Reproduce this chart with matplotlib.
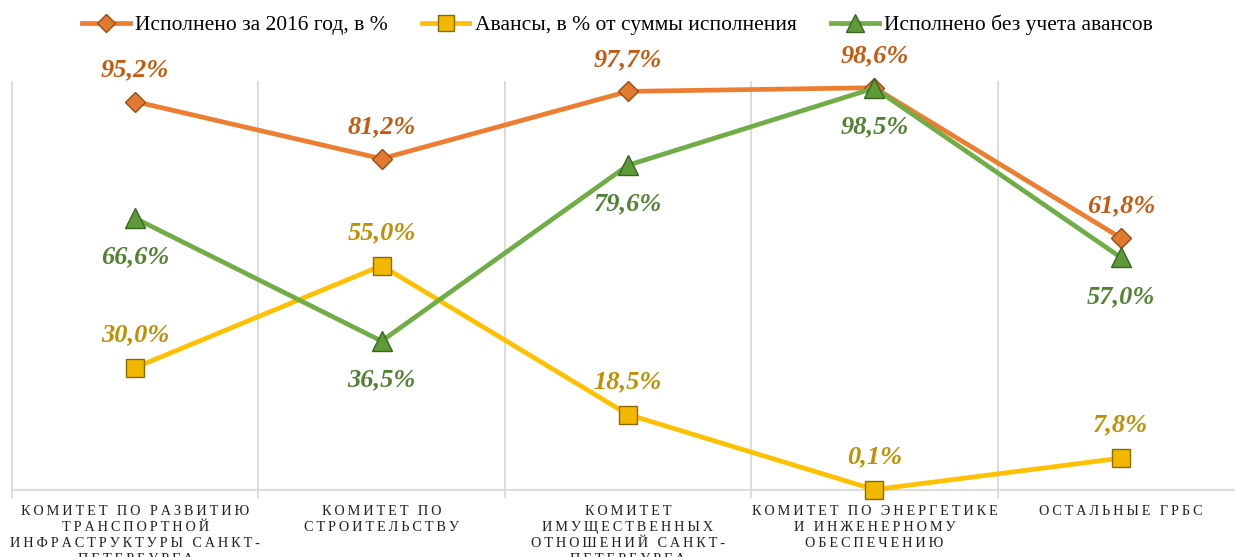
import matplotlib
matplotlib.use("Agg")
import matplotlib.pyplot as plt
from matplotlib.lines import Line2D
import numpy as np

categories = [
    "КОМИТЕТ ПО РАЗВИТИЮ\nТРАНСПОРТНОЙ\nИНФРАСТРУКТУРЫ САНКТ-\nПЕТЕРБУРГА",
    "КОМИТЕТ ПО\nСТРОИТЕЛЬСТВУ",
    "КОМИТЕТ\nИМУЩЕСТВЕННЫХ\nОТНОШЕНИЙ САНКТ-\nПЕТЕРБУРГА",
    "КОМИТЕТ ПО ЭНЕРГЕТИКЕ\nИ ИНЖЕНЕРНОМУ\nОБЕСПЕЧЕНИЮ",
    "ОСТАЛЬНЫЕ ГРБС",
]
executed = [95.2, 81.2, 97.7, 98.6, 61.8]
advances = [30.0, 55.0, 18.5, 0.1, 7.8]
without_adv = [66.6, 36.5, 79.6, 98.5, 57.0]
series_names = ["Исполнено за 2016 год, в %",
                "Авансы, в % от суммы исполнения",
                "Исполнено без учета авансов"]

W, H = 1235, 557
fig = plt.figure(figsize=(W / 100, H / 100), dpi=100)
left, right, top, bottom = 12, 1244, 82, 490
ax = fig.add_axes([left / W, 1 - bottom / H, (right - left) / W, (bottom - top) / H])

x = np.arange(len(categories))
ax.set_xlim(-0.5, len(categories) - 0.5)
ax.set_ylim(0, 100)

serif = ["Liberation Serif", "DejaVu Serif"]

# gridlines at category boundaries
bounds = np.arange(-0.5, len(categories), 1.0)
for b in bounds:
    ax.axvline(b, color="#d9d9d9", lw=1.3, zorder=0, clip_on=False)

line_cols = ["#ED7D31", "#FFC000", "#70AD47"]
face_cols = ["#E07A30", "#F2B800", "#5E9A38"]
edge_cols = ["#9C4A12", "#8A6A00", "#3B6322"]
text_cols = ["#C55A11", "#BF9000", "#548235"]
markers = ["D", "s", "^"]
msizes = [10, 12.5, 14]
data = [executed, advances, without_adv]
offsets = [32, 33, -39]

for vals, lc, fc, ec, tc, m, ms, off in zip(data, line_cols, face_cols, edge_cols, text_cols, markers, msizes, offsets):
    ax.plot(x, vals, color=lc, lw=3.4, marker=m, markersize=ms,
            markerfacecolor=fc, markeredgecolor=ec,
            markeredgewidth=1.0, zorder=3, clip_on=False)
    for xi, v in zip(x, vals):
        ax.annotate(f"{v:.1f}%".replace(".", ","), (xi, v), xytext=(0, off),
                    textcoords="offset pixels", ha="center", va="center",
                    fontsize=19, fontweight="bold", fontstyle="italic",
                    color=tc, family=serif, zorder=5)

for s in ["top", "right", "left"]:
    ax.spines[s].set_visible(False)
ax.spines["bottom"].set_color("#d9d9d9")
ax.spines["bottom"].set_linewidth(1.3)
ax.set_yticks([])

ax.set_xticks(x)
spaced = ["\n".join("\u2009".join(ch for ch in line) for line in c.split("\n")) for c in categories]
ax.set_xticklabels(spaced, family=serif, fontsize=10.3, color="#222222", linespacing=1.3, va="top")
ax.tick_params(axis="x", which="major", length=0, pad=11)
ax.set_xticks(bounds, minor=True)
ax.tick_params(axis="x", which="minor", length=6, color="#d9d9d9", width=1.3)

handles = []
for lc, fc, ec, m, ms, name in zip(line_cols, face_cols, edge_cols, markers, msizes, series_names):
    handles.append(Line2D([0], [0], color=lc, lw=3.4, marker=m, markersize=ms * 0.9,
                          markerfacecolor=fc, markeredgecolor=ec, label=name))
fig.legend(handles=handles, loc="center", bbox_to_anchor=(0.5, 1 - 25 / H), ncol=3,
           frameon=False, prop={"family": serif, "size": 15.5}, handlelength=2.2,
           handletextpad=0.25, columnspacing=1.6)

fig.savefig("out.png", dpi=100)
